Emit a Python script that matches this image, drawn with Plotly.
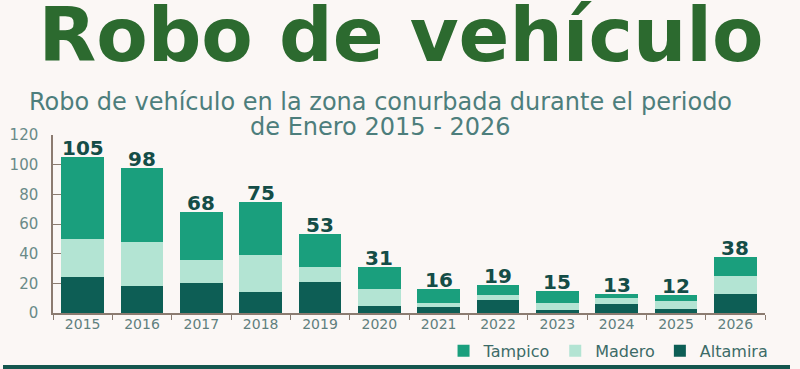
import plotly.graph_objects as go

years = ["2015", "2016", "2017", "2018", "2019", "2020", "2021", "2022", "2023", "2024", "2025", "2026"]
altamira = [24, 18, 20, 14, 21, 5, 4, 9, 2, 6, 3, 13]
madero = [26, 30, 16, 25, 10, 11, 3, 3, 5, 4, 5, 12]
tampico = [55, 50, 32, 36, 22, 15, 9, 7, 8, 3, 4, 13]
totals = [a + m + t for a, m, t in zip(altamira, madero, tampico)]
y_ticks = [0, 20, 40, 60, 80, 100, 120]

C_TAM = "#1a9f7d"
C_MAD = "#b3e4d3"
C_ALT = "#0d5e55"
BG = "#fbf7f5"
AX = "#8b7b70"

fig = go.Figure()
fig.add_trace(go.Bar(x=years, y=altamira, name="Altamira", marker=dict(color=C_ALT, line=dict(width=0))))
fig.add_trace(go.Bar(x=years, y=madero, name="Madero", marker=dict(color=C_MAD, line=dict(width=0))))
fig.add_trace(go.Bar(x=years, y=tampico, name="Tampico", marker=dict(color=C_TAM, line=dict(width=0))))

for i, tot in enumerate(totals):
    fig.add_annotation(x=i, y=tot, text=str(tot), showarrow=False, yanchor="bottom", yshift=-5,
                       font=dict(family="DejaVu Sans", size=20, color="#144d47", weight="bold"))

sub_font = dict(family="DejaVu Sans", size=24, color="#4d7e7c")
fig.add_annotation(xref="paper", yref="paper", x=(380 - 53) / 712, y=(313 - 101.5) / 178,
                   xanchor="center", yanchor="middle", showarrow=False, font=sub_font,
                   text="Robo de vehículo en la zona conurbada durante el periodo")
fig.add_annotation(xref="paper", yref="paper", x=(380 - 53) / 712, y=(313 - 127) / 178,
                   xanchor="center", yanchor="middle", showarrow=False, font=sub_font,
                   text="de Enero 2015 - 2026")

fig.add_shape(type="line", xref="paper", yref="paper", x0=-50/712, x1=737/712,
              y0=(313 - 367.5) / 178, y1=(313 - 367.5) / 178,
              line=dict(color="#14564e", width=5))

fig.update_layout(
    width=800, height=369,
    paper_bgcolor=BG, plot_bgcolor=BG,
    barmode="stack", bargap=0.28,
    margin=dict(l=53, r=35, t=135, b=56, autoexpand=False),
    title=dict(text="<b>Robo de vehículo</b>", xref="container", yref="container", x=401 / 800, y=1 - 35 / 369,
               xanchor="center", yanchor="middle",
               font=dict(family="DejaVu Sans", size=75, color="#2c6a2f")),
    showlegend=True,
    legend=dict(orientation="h", traceorder="reversed", x=1.012, xanchor="right", y=-0.213, yanchor="middle",
                font=dict(family="DejaVu Sans", size=16, color="#3c6b67"), bgcolor="rgba(0,0,0,0)",
                itemwidth=30),
    xaxis=dict(type="category", showline=True, linecolor=AX, linewidth=1.5, ticks="outside",
               tickson="boundaries", ticklen=5, tickcolor=AX, showgrid=False, ticklabelstandoff=-3,
               tickfont=dict(family="DejaVu Sans", size=14, color="#5f7f7e")),
    yaxis=dict(range=[0, 120], tickvals=y_ticks, showline=True, linecolor=AX, linewidth=1.5,
               ticks="inside", ticklen=18, tickcolor=AX, showgrid=False, zeroline=False,
               layer="below traces", ticklabelstandoff=10,
               tickfont=dict(family="DejaVu Sans", size=15, color="#6a8a88")),
)

fig.write_html("out.html", config={"displayModeBar": False},
               post_script="document.body.style.margin='0';document.body.style.background='%s';" % BG)
